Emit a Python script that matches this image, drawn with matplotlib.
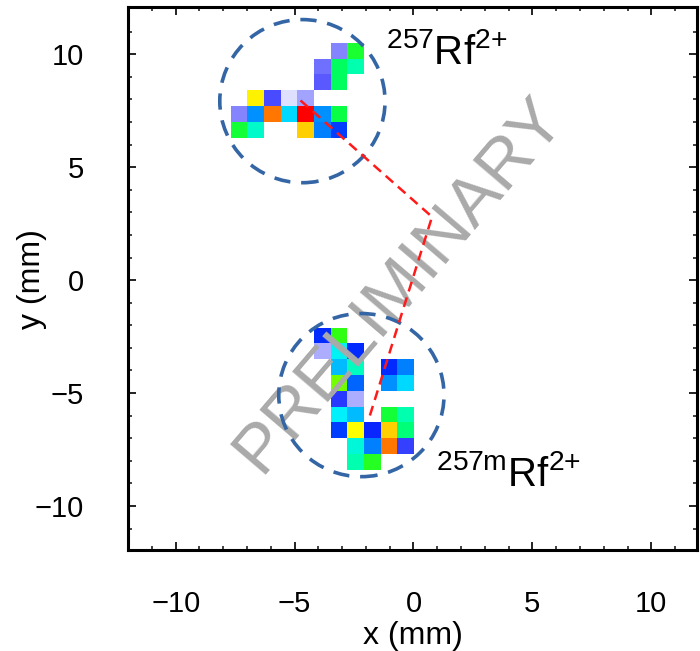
import numpy as np
import matplotlib
matplotlib.use("Agg")
import matplotlib.pyplot as plt
from matplotlib.colors import LinearSegmentedColormap
from matplotlib.patches import Ellipse

plt.rcParams['font.family'] = ['Liberation Sans', 'DejaVu Sans']
plt.rcParams['mathtext.fontset'] = 'custom'
plt.rcParams['mathtext.rm'] = 'Liberation Sans'

# detector pixel grid (mm)
pitch = 0.7
grid_x0 = -7.68
grid_y0 = 6.3

# hit intensities (0..1 on colour scale), rows listed top -> bottom, nan = no hit
# 257Rf2+ cluster: columns 0..7, rows 5..0
top_cols = np.arange(0, 8)
top_rows = np.arange(5, -1, -1)
top_hits = np.array([
    [np.nan, np.nan, np.nan, np.nan, np.nan, np.nan, 0.13, 0.66],
    [np.nan, np.nan, np.nan, np.nan, np.nan, 0.16, 0.62, 0.56],
    [np.nan, np.nan, np.nan, np.nan, np.nan, 0.19, 0.62, np.nan],
    [np.nan, 0.80, 0.21, 0.02, 0.09, np.nan, np.nan, np.nan],
    [0.13, 0.40, 0.92, 0.48, 1.00, 0.40, 0.64, np.nan],
    [0.65, 0.54, np.nan, np.nan, 0.85, 0.38, 0.31, np.nan],
])

# 257mRf2+ cluster: columns 5..10, rows -13..-21
bot_cols = np.arange(5, 11)
bot_rows = np.arange(-13, -22, -1)
bot_hits = np.array([
    [0.29, 0.68, np.nan, np.nan, np.nan, np.nan],
    [0.08, 0.51, 0.29, np.nan, np.nan, np.nan],
    [np.nan, 0.45, 0.55, np.nan, 0.29, 0.38],
    [np.nan, 0.72, 0.35, np.nan, 0.40, 0.48],
    [np.nan, 0.24, 0.08, np.nan, np.nan, np.nan],
    [np.nan, 0.50, 0.45, np.nan, 0.65, 0.56],
    [np.nan, 0.31, 0.78, 0.27, 0.85, 0.60],
    [np.nan, np.nan, 0.53, 0.38, 0.92, 0.23],
    [np.nan, np.nan, 0.56, 0.67, np.nan, np.nan],
])

# circles marking the two ion spots (center x, center y)
spot_x = [-4.67, -2.19]
spot_y = [7.92, -5.09]
spot_w = 6.95
spot_h = 7.22

# reconstructed path (red dashed)
path_x = [-4.75, 0.78, -1.85]
path_y = [7.95, 2.8, -6.05]

labels = [r'$^{257}\mathrm{Rf}^{2{+}}$', r'$^{257\mathrm{m}}\mathrm{Rf}^{2{+}}$']
label_x = [-1.15, 0.95]
label_y = [9.55, -9.1]

cmap = LinearSegmentedColormap.from_list('hits', [
    (0.00, '#f0f0ff'), (0.10, '#9a9aff'), (0.20, '#5050ff'), (0.28, '#0020ff'),
    (0.36, '#0070ff'), (0.44, '#00b0ff'), (0.50, '#00f0ff'), (0.56, '#00ffb0'),
    (0.63, '#00ff50'), (0.70, '#40ff00'), (0.78, '#ffff00'), (0.85, '#ffd000'),
    (0.92, '#ff7800'), (1.00, '#ff0000')])

fig = plt.figure(figsize=(7.0, 6.51), dpi=100)
ax = fig.add_axes([0.183, 0.155, 0.813, 0.834])

for cols, rows, hits in [(top_cols, top_rows, top_hits), (bot_cols, bot_rows, bot_hits)]:
    xe = grid_x0 + pitch * np.append(cols, cols[-1] + 1)
    ye = grid_y0 + pitch * np.append(rows + 1, rows[-1])
    ax.pcolormesh(xe, ye, np.ma.masked_invalid(hits), cmap=cmap, vmin=0, vmax=1,
                  shading='flat', zorder=1)

ax.text(-0.62, -0.18, 'PRELIMINARY', rotation=49.5, color='#aaaaaa', fontsize=50,
        ha='center', va='center', zorder=2)

for cx, cy in zip(spot_x, spot_y):
    ax.add_patch(Ellipse((cx, cy), spot_w, spot_h, fill=False, ec='#3465a4',
                         lw=2.6, ls=(0, (4.5, 3)), zorder=3))

ax.plot(path_x, path_y, color='#ff1a1a', lw=1.8, ls=(0, (4, 2.5)), zorder=4)

for s, lx, ly in zip(labels, label_x, label_y):
    ax.text(lx, ly, s, fontsize=29, ha='left', va='baseline', zorder=5)

ax.set_xlim(-12.0, 11.93)
ax.set_ylim(-11.95, 12.08)
ax.set_xticks([-10, -5, 0, 5, 10])
ax.set_yticks([-10, -5, 0, 5, 10])
ax.set_xticks(np.arange(-11, 12), minor=True)
ax.set_yticks(np.arange(-11, 12), minor=True)
ax.tick_params(which='both', direction='in', top=True, right=True, labelsize=21,
               color='#222222')
ax.tick_params(which='major', length=6, width=1.4)
ax.tick_params(which='minor', length=3, width=1.2)
ax.tick_params(axis='x', which='major', pad=29)
ax.tick_params(axis='y', which='major', pad=32)
for sp in ax.spines.values():
    sp.set_linewidth(2.2)
ax.set_xlabel('x (mm)', fontsize=23)
ax.set_ylabel('y (mm)', fontsize=23)
ax.xaxis.set_label_coords(0.5, -0.13)
ax.yaxis.set_label_coords(-0.142, 0.5)

fig.savefig('out.png', dpi=100)
